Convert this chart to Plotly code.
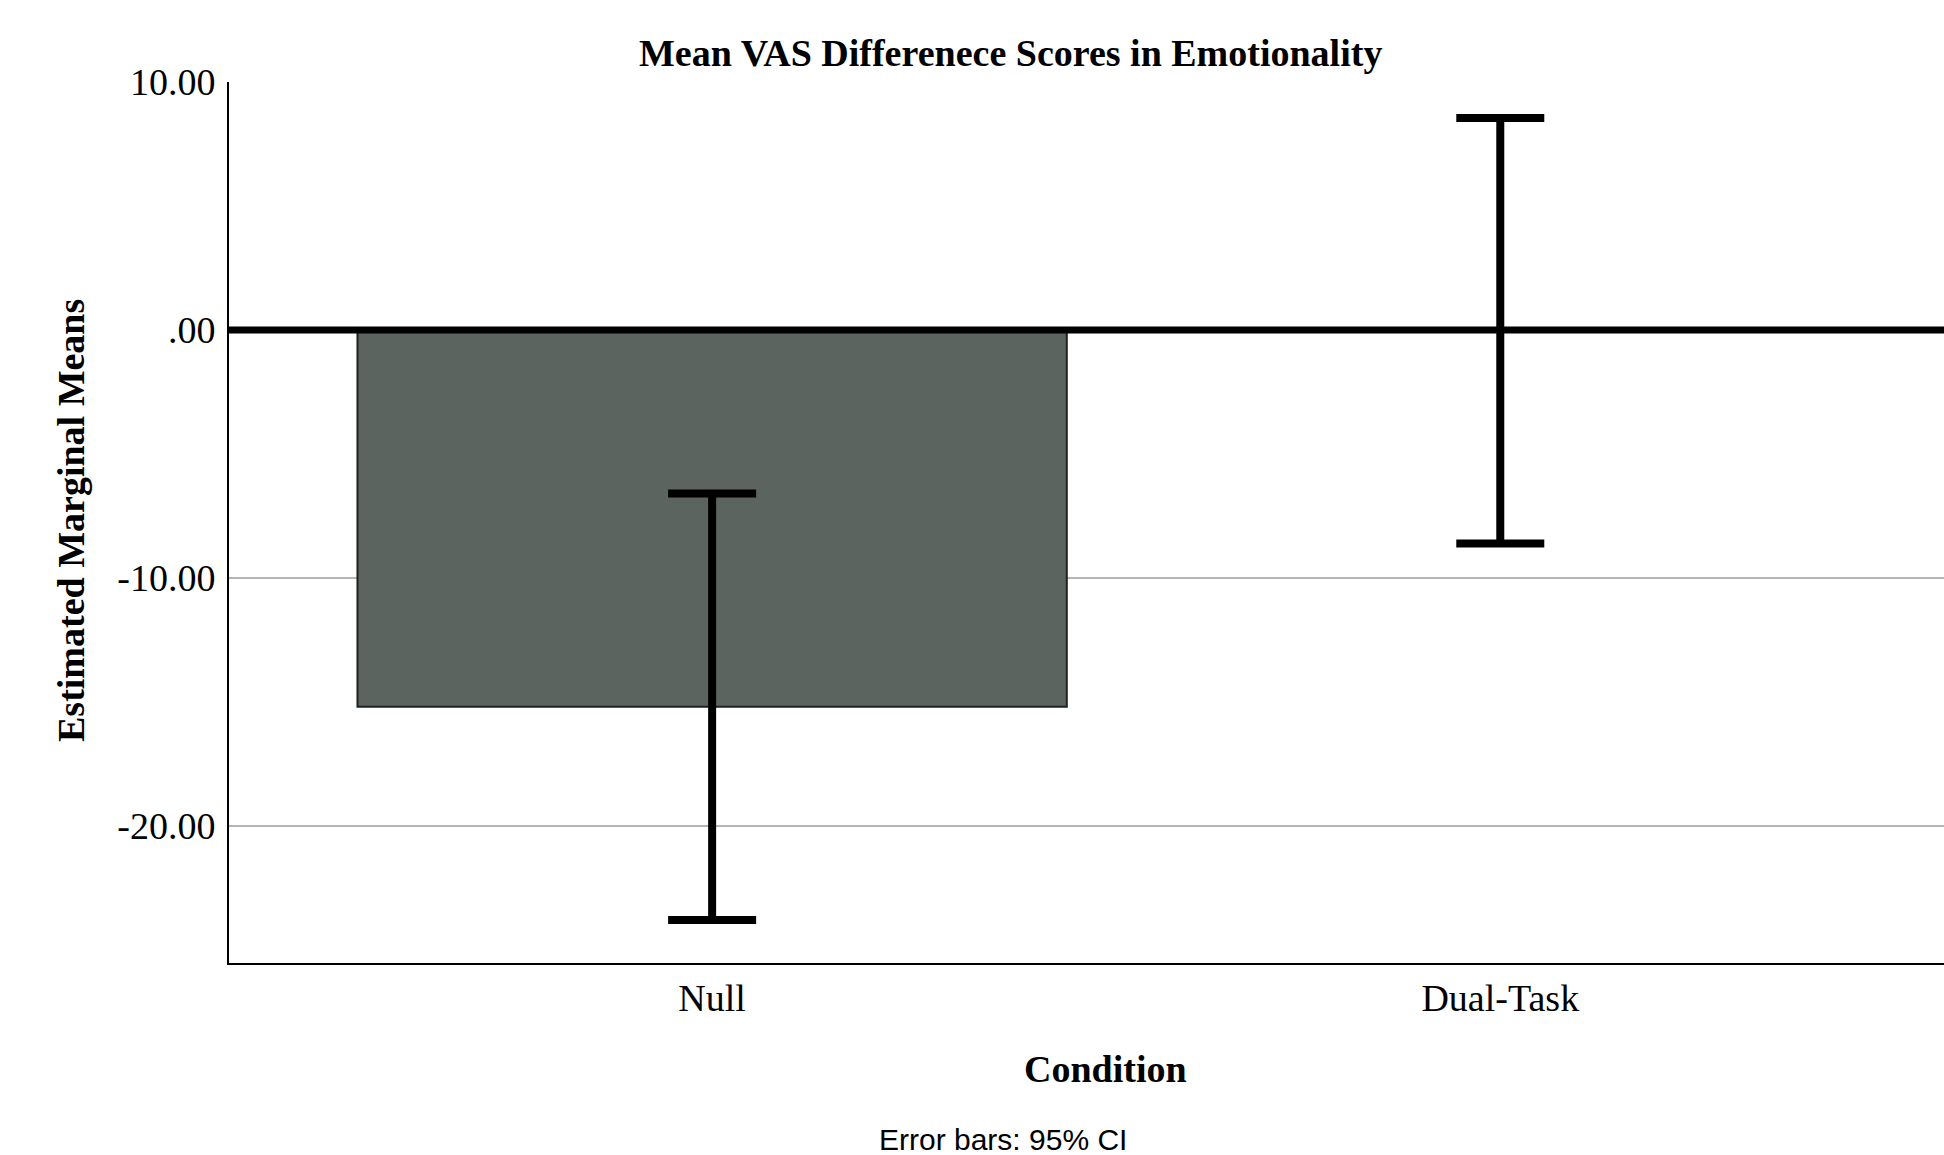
import plotly.graph_objects as go

categories = ["Null", "Dual-Task"]
means = [-15.2, -0.03]
ci_half = [8.6, 8.58]
ytick_vals = [10, 0, -10, -20]
ytick_text = ["10.00", ".00", "-10.00", "-20.00"]

W, H = 1944, 1155
L, R, T, B = 229, 0, 82, 192
x_pos = list(range(len(categories)))

fig = go.Figure()
fig.add_trace(go.Bar(
    x=x_pos, y=means, width=0.9,
    marker=dict(color="#5b645e", line=dict(color="#1e2320", width=2)),
    error_y=dict(type="data", array=ci_half, visible=True,
                 color="black", thickness=8, width=44),
    showlegend=False, hoverinfo="y",
))

# reference line at zero drawn above bars
fig.add_shape(type="line", xref="paper", x0=0, x1=1, yref="y", y0=0, y1=0,
              line=dict(color="black", width=7), layer="above")

serif = "Liberation Serif"
fig.update_layout(
    width=W, height=H,
    margin=dict(l=L, r=R, t=T, b=B),
    plot_bgcolor="white", paper_bgcolor="white",
    xaxis=dict(range=[-0.613, 1.563], tickvals=x_pos, ticktext=categories,
               showgrid=False, zeroline=False, showline=True,
               linecolor="black", linewidth=2, ticks="",
               ticklabelstandoff=0,
               tickfont=dict(family=serif, size=38, color="black")),
    yaxis=dict(range=[-25.53, 10], tickvals=ytick_vals, ticktext=ytick_text,
               showgrid=True, gridcolor="#b4b4b4", gridwidth=2,
               zeroline=False, showline=True, linecolor="black", linewidth=2,
               ticks="", ticklabelstandoff=4,
               tickfont=dict(family=serif, size=38, color="black")),
    annotations=[
        dict(text="<b>Mean VAS Differenece Scores in Emotionality</b>",
             xref="paper", yref="paper",
             x=(1010 - L) / (W - L - R), y=1 + (82 - 53) / (H - T - B),
             xanchor="center", yanchor="middle", showarrow=False,
             font=dict(family=serif, size=38, color="black")),
        dict(text="<b>Estimated Marginal Means</b>",
             xref="paper", yref="paper",
             x=(71 - L) / (W - L - R), y=1 - (521 - T) / (H - T - B),
             xanchor="center", yanchor="middle", textangle=-90, showarrow=False,
             font=dict(family=serif, size=38, color="black")),
        dict(text="<b>Condition</b>",
             xref="paper", yref="paper",
             x=(1105 - L) / (W - L - R), y=-(1069 - (H - B)) / (H - T - B),
             xanchor="center", yanchor="middle", showarrow=False,
             font=dict(family=serif, size=38, color="black")),
        dict(text="Error bars: 95% CI",
             xref="paper", yref="paper",
             x=(1003 - L) / (W - L - R), y=-(1139 - (H - B)) / (H - T - B),
             xanchor="center", yanchor="middle", showarrow=False,
             font=dict(family="Liberation Sans", size=30, color="black")),
    ],
)

fig.write_html("out.html", config={"displayModeBar": False},
               post_script="document.body.style.margin='0';"
                           "document.body.style.overflow='hidden';")
